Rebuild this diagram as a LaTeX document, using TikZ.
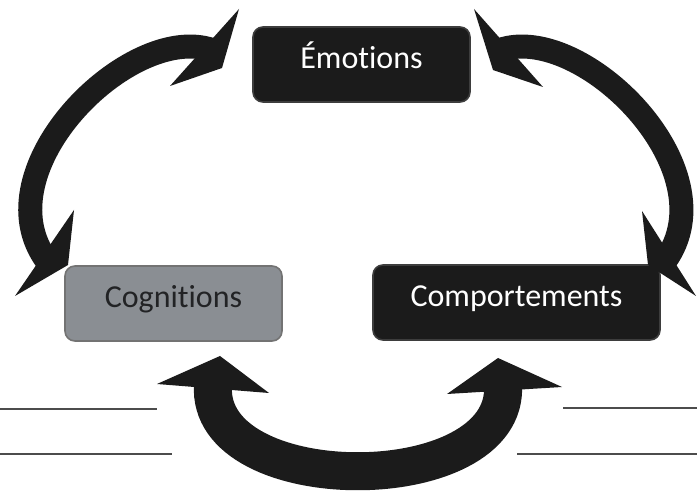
\documentclass[tikz,border=0pt]{standalone}
\usepackage{fontspec}
\setmainfont{Carlito}[Ligatures=NoCommon]
\usetikzlibrary{positioning}
\definecolor{inkdark}{HTML}{1B1B1B}
\definecolor{cardgray}{HTML}{8A8E93}
\definecolor{cardtext}{HTML}{222325}
\tikzset{card/.style={rounded corners=5pt, inner sep=0pt, minimum height=37.5pt, text height=12pt, text depth=8pt, font=\fontsize{16}{19}\selectfont}}
\tikzset{darkcard/.style={card, fill=inkdark, draw=inkdark!85!white, line width=0.8pt, text=white}}
\tikzset{graycard/.style={card, fill=cardgray, draw=black!55, line width=0.8pt, text=cardtext}}
\tikzset{shaft/.style={draw=inkdark, line width=#1}}
\tikzset{head/.style={fill=inkdark}}
\tikzset{rule/.style={draw=black!70, line width=0.6pt}}

\begin{document}
\begin{tikzpicture}[x=0.5pt, y=-0.5pt]
\useasboundingbox (0,0) rectangle (697,497);
	\node[darkcard, minimum width=108.5pt] at (361.5, 64.5) (emo) {Émotions};
	\node[graycard, minimum width=108.5pt] at (173.5, 303.5) (cog) {Cognitions};
	\node[darkcard, minimum width=143.5pt] at (516.5, 302.5) (comp) {Comportements};

	\coordinate (tl-a) at (212, 50);
	\coordinate (tl-b) at (47, 261);
	\coordinate (tr-a) at (500, 50);
	\coordinate (tr-b) at (665, 261);
	\coordinate (bt-a) at (213, 385);
	\coordinate (bt-b) at (503, 385);

\draw[shaft=12pt] (tl-a) .. controls (130, 22) and (-20, 170) .. (tl-b);
	\fill[head] (239, 9) -- (222, 68) -- (170, 86) -- cycle;
	\fill[head] (15, 296) -- (68, 265) -- (74, 210) -- cycle;
\draw[shaft=12pt] (tr-a) .. controls (582, 22) and (731, 170) .. (tr-b);
	\fill[head] (474, 9) -- (493, 70) -- (543, 87) -- cycle;
	\fill[head] (696, 296) -- (648, 265) -- (642, 211) -- cycle;
\draw[shaft=19pt] (bt-a) .. controls (205, 500) and (510, 500) .. (bt-b);
	\fill[head] (220, 356) -- (157, 384) -- (269, 393) -- cycle;
	\fill[head] (498, 358) -- (447, 394) -- (562, 387) -- cycle;

	\draw[rule] (0, 409) -- (157, 409);
	\draw[rule] (0, 454) -- (172, 454);
	\draw[rule] (563, 408) -- (697, 408);
	\draw[rule] (517, 454) -- (697, 454);
\end{tikzpicture}
\end{document}
